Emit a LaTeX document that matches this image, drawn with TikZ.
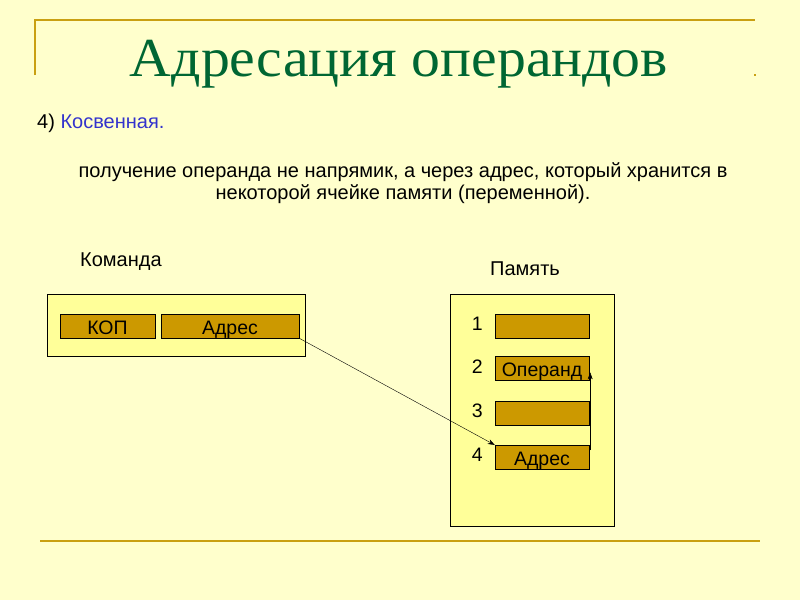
\documentclass[tikz,border=0pt]{standalone}
\usepackage{fontspec}
\setmainfont{Liberation Sans}
\newfontfamily\titlefont{Liberation Serif}
\usepackage{tikz}
\usetikzlibrary{positioning,arrows.meta}

\definecolor{slidebg}{HTML}{FFFFCC}
\definecolor{rulegold}{HTML}{C9A012}
\definecolor{titlegreen}{HTML}{006633}
\definecolor{cellfill}{HTML}{CC9900}
\definecolor{boxfill}{HTML}{FFFF99}
\definecolor{accentblue}{HTML}{3333CC}

\begin{document}
\begin{tikzpicture}[x=1pt,y=-1pt,>={Stealth[length=7pt,width=5pt]},
  txt/.style={inner sep=0pt,font=\fontsize{20}{22}\selectfont},
  frame/.style={draw=black,fill=boxfill,inner sep=0pt},
  cell/.style={draw=black,fill=cellfill,inner sep=0pt,minimum width=94pt,minimum height=24pt,text height=18pt,text depth=2pt,font=\fontsize{19.5}{20}\selectfont},
  num/.style={inner sep=0pt,font=\fontsize{19.5}{20}\selectfont}]
\useasboundingbox[fill=slidebg] (0,0) rectangle (800,600);

% slide rules
\draw[rulegold,line width=2pt] (35,75) -- (35,20) -- (755,20);
\fill[rulegold] (754,74) rectangle (756,76);
\draw[rulegold,line width=2.5pt] (40,541) -- (760,541);

% title and text
\node[inner sep=0pt,text=titlegreen,font=\titlefont\fontsize{55}{60}\selectfont,xscale=1.05] (title) at (399,64) {Адресация операндов};
\node[txt,anchor=west] (item) at (37,123) {4) \textcolor{accentblue}{Косвенная.}};
\node[txt,align=center] (expl) at (403,183) {получение операнда не напрямик, а через адрес, который хранится в\\некоторой ячейке памяти (переменной).};
\node[txt,anchor=west] (cmdlbl) at (80,262) {Команда};
\node[txt,anchor=west] (memlbl) at (490,269) {Память};

% command
\node[frame,minimum width=258pt,minimum height=62pt] (cmd) at (176,325) {};
\node[cell,minimum width=95pt] (kop) at (107.5,326) {КОП};
\node[cell,minimum width=138pt] (adr) at (230,326) {Адрес};

% memory
\node[frame,minimum width=164pt,minimum height=232pt] (mem) at (532,410) {};
\node[cell] (c1) at (542,326) {};
\node[cell] (c2) [below=18pt of c1] {Операнд};
\node[cell] (c3) [below=20pt of c2] {};
\node[cell] (c4) [below=20pt of c3] {Адрес};
\foreach \i in {1,...,4}
  \node[num,left=12pt of c\i.west,yshift=2pt] (n\i) {\i};

% links
\coordinate (up1) at ([xshift=1pt,yshift=7pt]c4.east);
\coordinate (up2) at ([xshift=1pt,yshift=-4pt]c2.east);
\draw[->,thin] (adr.south east) -- (c4.north west);
\draw[->,thin] (up1) -- (up2);
\end{tikzpicture}
\end{document}
